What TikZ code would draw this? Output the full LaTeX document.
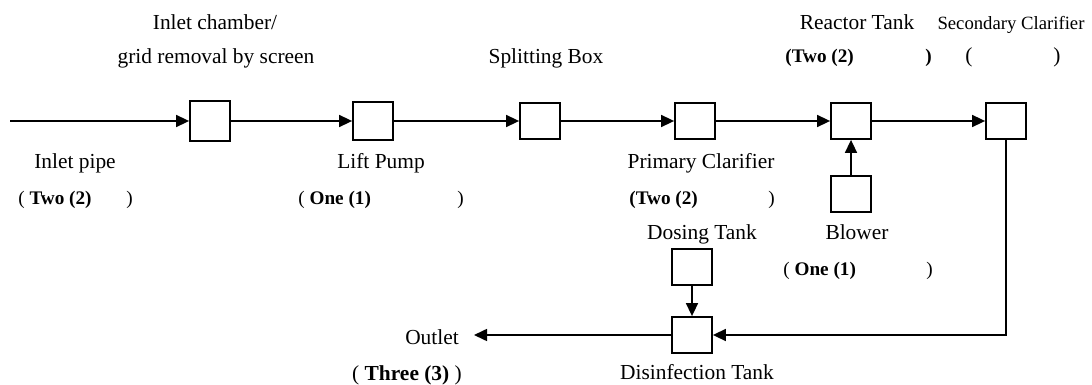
\documentclass[tikz,border=0pt]{standalone}
\usepackage{fontspec}
\setmainfont{Liberation Serif}
\usetikzlibrary{arrows.meta}
\newcommand{\cntlbl}[2]{\makebox[#1][l]{#2})}
\begin{document}
\begin{tikzpicture}[x=0.5pt,y=-0.5pt,
  unit/.style={draw,line width=0.9pt,minimum width=20pt,minimum height=18pt,inner sep=0pt},
  flow/.style={line width=0.8pt,-{Triangle[length=6.5pt,width=6pt]}},
  lbl/.style={inner sep=0pt,anchor=base,font=\fontsize{10.7}{12}\selectfont},
  cnt/.style={inner sep=0pt,anchor=base west,font=\fontsize{9.6}{11}\selectfont},
  small/.style={inner sep=0pt,anchor=base,font=\fontsize{9.35}{11}\selectfont}]
\useasboundingbox (0,0) rectangle (1092,385);
% boxes
\node[unit,minimum height=20pt] (b1) at (210,121) {};
\node[unit,minimum height=19pt] (b2) at (373,121) {};
\node[unit] (b3) at (540,121) {};
\node[unit] (b4) at (695,121) {};
\node[unit] (b5) at (851,121) {};
\node[unit] (b6) at (1006,121) {};
\node[unit] (blower) at (851,194) {};
\node[unit] (dosing) at (692,267) {};
\node[unit] (disinf) at (692,335) {};
\coordinate (inlet) at (10,121);
\coordinate (outlet) at (474,335);
% connectors
\draw[flow] (inlet) -- (b1.west);
\draw[flow] (b1) -- (b2);
\draw[flow] (b2) -- (b3);
\draw[flow] (b3) -- (b4);
\draw[flow] (b4) -- (b5);
\draw[flow] (b5) -- (b6);
\draw[flow] (blower) -- (b5);
\draw[flow] (dosing) -- (disinf);
\draw[flow] (b6.south) |- (disinf.east);
\draw[flow] (disinf.west) -- (outlet);
% labels
\node[lbl] (t1) at (215,30) {Inlet chamber/};
\node[lbl] (t2) at (216,64) {grid removal by screen};
\node[lbl] (t3) at (75,169) {Inlet pipe};
\node[cnt] (c3) at (18,204) {\cntlbl{54pt}{( \textbf{Two (2)}}};
\node[lbl] (t4) at (381,169) {Lift Pump};
\node[cnt] (c4) at (298,204) {\cntlbl{79.5pt}{( \textbf{One (1)}}};
\node[lbl] (t5) at (546,64) {Splitting Box};
\node[lbl] (t6) at (701,169) {Primary Clarifier};
\node[cnt] (c6) at (629,204) {\cntlbl{69.5pt}{\textbf{(Two (2)}}};
\node[lbl] (t7) at (857,30) {Reactor Tank};
\node[cnt] (c7) at (785,63) {\bfseries\cntlbl{70pt}{(Two (2)}};
\node[small] (t8) at (1011,30) {Secondary Clarifier};
\node[cnt,font=\fontsize{10.7}{12}\selectfont] (c8) at (965,63) {\cntlbl{44pt}{(}};
\node[lbl] (t9) at (702,239) {Dosing Tank};
\node[lbl] (t10) at (857,239) {Blower};
\node[cnt] (c10) at (783,275) {\cntlbl{71.5pt}{( \textbf{One (1)}}};
\node[lbl] (t11) at (432,344) {Outlet};
\node[lbl] (c11) at (407,380) {( \textbf{Three (3)} )};
\node[lbl] (t12) at (697,379) {Disinfection Tank};
\end{tikzpicture}
\end{document}
